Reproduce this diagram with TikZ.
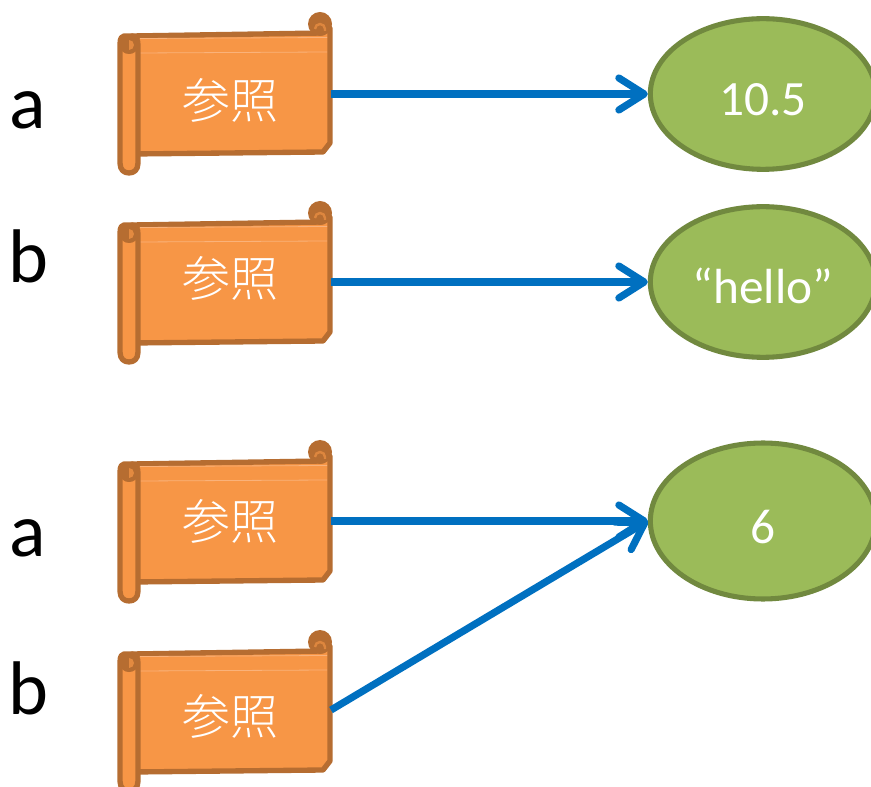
\documentclass[tikz,border=0pt]{standalone}
\usepackage{fontspec}
\setmainfont{Carlito}
\newfontfamily\cjkfont{Noto Sans CJK JP Light}
\usetikzlibrary{arrows.meta,shapes.geometric}
\definecolor{scrollfill}{HTML}{F79646}
\definecolor{scrollline}{HTML}{B66D31}
\definecolor{scrolllight}{HTML}{FAB27A}
\definecolor{valuefill}{HTML}{9BBB59}
\definecolor{valueline}{HTML}{71893F}
\definecolor{linkblue}{HTML}{0070C0}
\tikzset{
  scrollpart/.style={draw=scrollline,fill=scrollfill,line width=4pt,line join=round},
  value/.style={draw=valueline,fill=valuefill,line width=3.8pt,ellipse,minimum width=169pt,minimum height=113pt,inner sep=0pt,text=white,text height=33pt,text depth=0pt,font=\fontsize{37}{37}\selectfont},
  varname/.style={font=\fontsize{57}{57}\selectfont,inner sep=0pt},
  reftext/.style={text=white,inner sep=0pt,font=\fontsize{36}{36}\cjkfont},
  link/.style={draw=linkblue,line width=5.4pt,-{Straight Barb[length=19pt,width=24pt,round]}},
  pics/scroll/.style={code={
    \draw[scrollpart] (132,36) -- (322,33) -- (330,28) -- (330,143) -- (323,152) -- (132,154) -- cycle;
    \draw[scrolllight,line width=.6pt] (140,38.5) -- (327,37.5) (140,53) -- (327,52);
    \fill[scrollline] (320,24) circle[radius=12];
    \draw[scrollfill!60!scrollline,line width=1.8pt] (315,29) arc[start angle=180,end angle=360,radius=5] -- (325,31);
    \draw[scrollpart] (120,44) .. controls (120,38) and (122,36) .. (124,36) -- (132,36) .. controls (136,36) and (138,40) .. (138,45) -- (138,163) .. controls (138,170) and (134,173) .. (129,173) .. controls (124,173) and (120,170) .. (120,163) -- cycle;
    \fill[scrollline] (120,44) .. controls (120,38) and (122,36) .. (124,36) -- (132,36) .. controls (136,36) and (138,40) .. (138,45) .. controls (138,51) and (134,54) .. (129,54) .. controls (124,54) and (120,51) .. (120,44) -- cycle;
    \fill[scrollfill!70!scrollline] (129,50) arc[start angle=90,end angle=-90,radius=5] -- cycle;
  }},
}
\begin{document}
\begin{tikzpicture}[x=.75pt,y=-.75pt]
    \useasboundingbox (0,0) rectangle (871,787);
    
    \pic at (0,0) {scroll};
    \pic at (0,189) {scroll};
    \pic at (0,428) {scroll};
    \pic at (0,618) {scroll};
    
    \node[reftext] (t1) at (230,100) {参照};
    \node[reftext] (t2) at (230,278) {参照};
    \node[reftext] (t3) at (230,521) {参照};
    \node[reftext] (t4) at (230,716) {参照};
    
    \coordinate (o1) at (331,94);
    \coordinate (o2) at (331,282);
    \coordinate (o3) at (331,521);
    \coordinate (o4) at (331,710);
    
    \node[value] (v1) at (763,94) {10.5};
    \node[value] (v2) at (763,282) {“hello”};
    \node[value,minimum height=117pt] (v3) at (763,521) {6};
    
    \node[varname] (a1) at (28,110) {a};
    \node[varname] (b1) at (28,256) {b};
    \node[varname] (a2) at (28,538) {a};
    \node[varname] (b2) at (28,688) {b};
    
    \draw[link] (o1) -- (v1.west);
    \draw[link] (o2) -- (v2.west);
    \draw[link] (o3) -- (v3.west);
    \draw[link] (o4) -- (v3.west);
\end{tikzpicture}
\end{document}
